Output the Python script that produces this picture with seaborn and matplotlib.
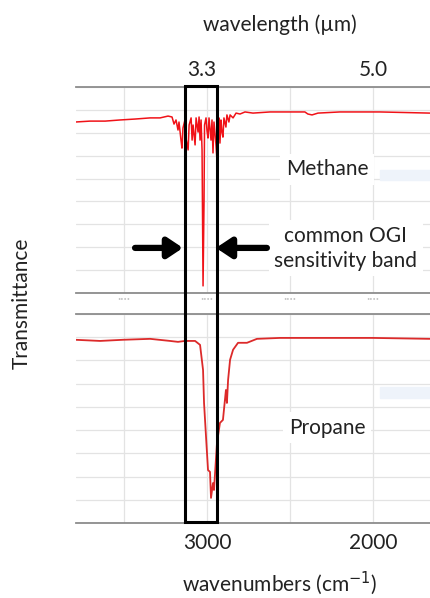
import numpy as np
import pandas as pd
import matplotlib
matplotlib.use("Agg")
import matplotlib.pyplot as plt
import matplotlib.transforms as mtransforms
from matplotlib.patches import Rectangle
import seaborn as sns

sns.set_style("white")
plt.rcParams["font.family"] = ["Lato", "DejaVu Sans"]

# methane spectrum (wavenumber cm-1, transmittance arb.)
ch4_wn = [3795, 3705, 3614, 3524, 3434, 3343, 3283, 3235, 3211, 3199, 3187, 3175,
          3169, 3157, 3151, 3145, 3133, 3127, 3114, 3108, 3096, 3090, 3084, 3072,
          3066, 3054, 3048, 3042, 3036, 3030, 3024, 3018, 3015, 3006, 3000, 2994,
          2988, 2976, 2970, 2964, 2958, 2946, 2940, 2934, 2928, 2922, 2916, 2910,
          2904, 2898, 2886, 2880, 2868, 2861, 2843, 2825, 2801, 2771, 2723, 2620,
          2500, 2410, 2392, 2367, 2331, 2199, 1958, 1657]
ch4_t = [74.7, 75.1, 75.1, 75.6, 76.0, 76.5, 76.5, 77.3, 76.9, 73.8, 75.6, 71.2,
         74.7, 66.8, 63.3, 72.1, 75.6, 67.7, 62.5, 73.4, 76.5, 66.8, 73.4, 64.7,
         76.5, 70.3, 76.9, 66.8, 75.6, 62.5, 3.1, 40.6, 73.4, 76.5, 70.8, 67.7,
         76.5, 66.8, 75.6, 61.2, 74.7, 64.7, 58.1, 72.1, 76.5, 65.5, 75.6, 70.3,
         68.1, 76.5, 72.5, 77.8, 74.7, 77.8, 76.5, 78.6, 78.2, 79.1, 78.6, 79.1,
         79.1, 79.1, 78.2, 77.8, 78.6, 79.1, 79.1, 78.6]

# propane spectrum
c3h8_wn = [3795, 3645, 3506, 3343, 3223, 3175, 3133, 3072, 3042, 3024, 3018, 3006,
           2994, 2982, 2976, 2964, 2958, 2940, 2922, 2904, 2892, 2886, 2880, 2873,
           2861, 2843, 2813, 2759, 2699, 2560, 2319, 2000, 1657]
c3h8_t = [78.9, 78.4, 78.9, 79.3, 78.4, 78.0, 78.4, 78.4, 76.7, 65.9, 51.7, 37.1,
          22.8, 22.0, 10.8, 17.2, 14.2, 34.5, 43.1, 44.4, 53.0, 57.3, 51.7, 61.6,
          70.3, 74.6, 77.6, 77.6, 79.3, 79.7, 79.7, 79.7, 79.3]

grid_wn = [3500, 3000, 2500, 2000, 1500]
wn_labels = ["", "3000", "", "2000", ""]
wl_ticks = [3.3, 5.0]
wl_labels = ["3.3", "5.0"]
band = (2940, 3133)

ch4 = pd.DataFrame({"wn": ch4_wn, "t": ch4_t})
c3h8 = pd.DataFrame({"wn": c3h8_wn, "t": c3h8_t})

W, H = 430, 598
FS = 15
TXT = "#222222"
fig = plt.figure(figsize=(W / 100, H / 100), dpi=100)
left = 76 / W
width = (484 - 76) / W
ax1 = fig.add_axes([left, 1 - 293 / H, width, (293 - 87) / H])
ax2 = fig.add_axes([left, 1 - 523 / H, width, (523 - 314) / H])

sns.lineplot(data=ch4, x="wn", y="t", ax=ax1, color="#f01218", lw=1.1, sort=False)
sns.lineplot(data=c3h8, x="wn", y="t", ax=ax2, color="#dc2a2a", lw=1.3, sort=False)

for ax in (ax1, ax2):
    ax.set_xlim(3790, 1330)
    ax.set_ylim(0, 90)
    ax.set_yticks(np.arange(0, 91, 10))
    ax.set_xticks(grid_wn)
    ax.grid(True, color="#e3e3e3", lw=0.9)
    ax.set_ylabel("")
    ax.set_xlabel("")
    ax.tick_params(length=0, labelleft=False)
    for s in ("left", "right"):
        ax.spines[s].set_visible(False)
    for s in ("top", "bottom"):
        ax.spines[s].set_color("#8c8c8c")
        ax.spines[s].set_linewidth(1.3)

ax1.set_xticks(grid_wn, ["····"] * 4 + [""], color="#c4c4c4", fontsize=9)
ax1.tick_params(axis="x", pad=0)
ax2.set_xticks(grid_wn, wn_labels, fontsize=FS, color=TXT)
ax2.tick_params(axis="x", pad=7)
ax2.set_xlabel("wavenumbers (cm$^{-1}$)", fontsize=FS, color=TXT, labelpad=12)

top = ax1.secondary_xaxis("top", functions=(lambda x: 1e4 / x, lambda x: 1e4 / x))
top.set_xticks(wl_ticks, wl_labels, fontsize=FS, color=TXT)
top.tick_params(length=0, pad=5)
top.spines["top"].set_visible(False)
top.set_xlabel("wavelength (µm)", fontsize=FS, color=TXT, labelpad=21)

fig.text(22 / W, 1 - 303 / H, "Transmittance", rotation=90, ha="center", va="center",
         fontsize=FS, color=TXT)

# faint leftover boxes from the original slide
ax1.add_patch(Rectangle((1258, 49.4), 700, 4.3, color="#eef3fa", zorder=1))
ax2.add_patch(Rectangle((1258, 53.9), 700, 4.7, color="#eef3fa", zorder=1))

ax1.text(2277, 54, "Methane", fontsize=FS, ha="center", va="center", color=TXT,
         bbox=dict(fc="white", ec="none", pad=4), zorder=3)
ax1.text(2163, 19.5, "common OGI\nsensitivity band", fontsize=FS, ha="center",
         va="center", color=TXT, linespacing=1.3,
         bbox=dict(fc="white", ec="none", pad=4), zorder=3)
ax2.text(2277, 41, "Propane", fontsize=FS, ha="center", va="center", color=TXT,
         bbox=dict(fc="white", ec="none", pad=4), zorder=3)

# arrows pointing at the band
arrow = dict(arrowstyle="-|>,head_length=0.9,head_width=0.6", color="black", lw=4.5,
             shrinkA=0, shrinkB=0)
ax1.annotate("", xy=(band[1] + 12, 19.7), xytext=(3434, 19.7), arrowprops=arrow)
ax1.annotate("", xy=(band[0] + 6, 19.7), xytext=(2639, 19.7), arrowprops=arrow)

# box around the band spanning both panels
trans = mtransforms.blended_transform_factory(ax2.transData, fig.transFigure)
fig.add_artist(Rectangle((band[1], 1 - 522 / H), band[0] - band[1], (522 - 86) / H,
                         transform=trans, fill=False, ec="black", lw=2.2, zorder=5))

fig.savefig("out.png", dpi=100)
